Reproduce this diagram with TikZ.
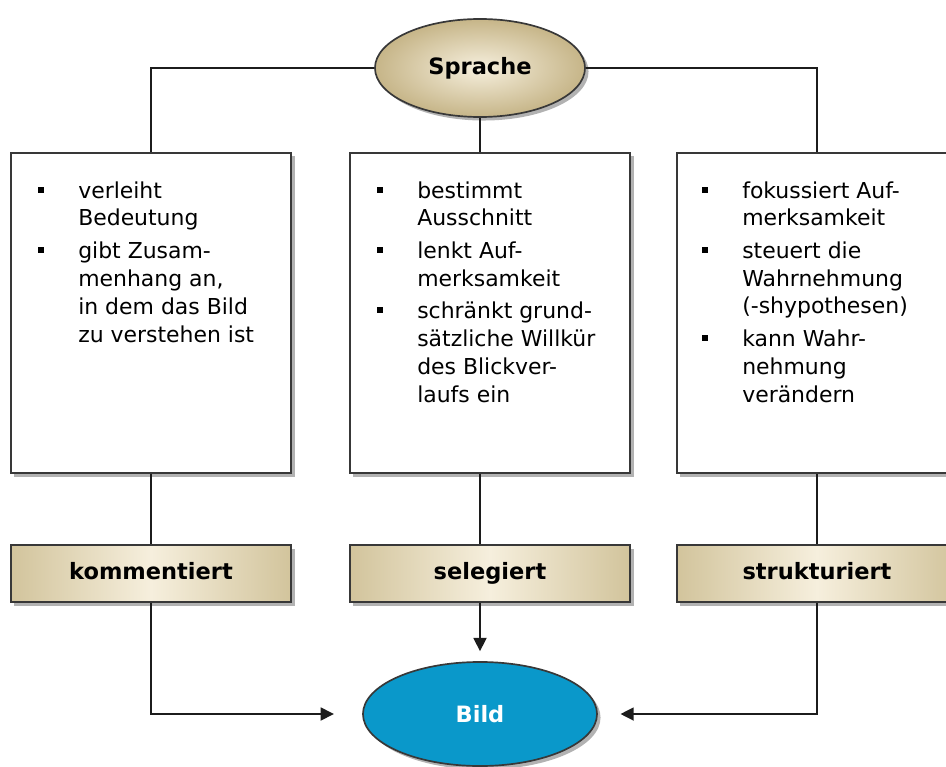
\documentclass[tikz,border=0pt]{standalone}
\usepackage{fontspec}
\setmainfont{DejaVu Sans}
\usetikzlibrary{arrows.meta,positioning,calc,shapes.geometric,shadows}
\definecolor{ink}{HTML}{1C1C1C}
\definecolor{frame}{HTML}{383838}
\definecolor{tan1}{HTML}{D2C49C}
\definecolor{tan2}{HTML}{C6B588}
\definecolor{cream1}{HTML}{F6EFDD}
\definecolor{blue1}{HTML}{0A98CA}
% one bullet point: x, first baseline, further lines, name, lines
\newcommand{\stich}[5]{%
  \node[bullet] (#4b) at ({#1-37},{#2-8}) {};
  \node[item] (#4) at (#1,{#2+28*#3}) {#5};}

\begin{document}
\begin{tikzpicture}[x=0.025cm,y=-0.025cm,
  every node/.style={font=\fontsize{15.6pt}{19.9pt}\selectfont},
  schatten/.style={drop shadow={shadow xshift=2.5pt,shadow yshift=-2.5pt,fill=black!60,opacity=.5}},
  feld/.style={draw=frame,line width=1.2pt,fill=white,minimum width=7cm,minimum height=8cm,schatten},
  etikett/.style={draw=frame,line width=1.2pt,left color=tan1,right color=tan1,middle color=cream1,
    minimum width=7cm,minimum height=1.425cm,text height=12pt,text depth=3pt,
    font=\fontsize{16pt}{19pt}\selectfont\bfseries,schatten},
  oval/.style={ellipse,draw=frame,line width=1.2pt,font=\fontsize{16pt}{19pt}\selectfont\bfseries,schatten},
  bullet/.style={fill=black,inner sep=0pt,minimum size=4.3pt},
  item/.style={anchor=base west,align=left,inner sep=0pt},
  linie/.style={ink,line width=2pt},
  pfeil/.style={linie,-{Triangle[length=9.5pt,width=9pt]}}]
  \path[use as bounding box] (0,0) rectangle (946,767);
  \clip (0,0) rectangle (946,767);

  % top and bottom ovals
  \node[oval,inner color=cream1,outer color=tan2,minimum width=5.25cm,minimum height=2.45cm] (sprache) at (480,68) {Sprache};
  \node[oval,fill=blue1,text=white,minimum width=5.85cm,minimum height=2.6cm] (bild) at (480,714) {Bild};

  % text boxes
  \node[feld] (boxA) at (151,313) {};
  \node[feld] (boxB) at (490,313) {};
  \node[feld] (boxC) at (817,313) {};

  % verb boxes
  \node[etikett] (labA) at (151,573.5) {kommentiert};
  \node[etikett] (labB) at (490,573.5) {selegiert};
  \node[etikett] (labC) at (817,573.5) {strukturiert};

  % connectors
  \draw[linie] (sprache.west) -| (boxA.north);
  \draw[linie] (sprache.east) -| (boxC.north);
  \draw[linie] (sprache.south) -- (sprache.south |- boxB.north);
  \draw[linie] (boxA.south) -- (labA.north);
  \draw[linie] (boxB.south -| sprache) -- (labB.north -| sprache);
  \draw[linie] (boxC.south) -- (labC.north);
  \draw[pfeil,shorten >=20pt] (labA.south) |- (bild.west);
  \draw[pfeil,shorten >=16pt] (labC.south) |- (bild.east);
  \draw[pfeil,shorten >=7pt] (labB.south -| bild) -- (bild.north);

  % bullet points
  \stich{78}{198}{1}{a1}{verleiht\\Bedeutung}
  \stich{78}{258}{3}{a2}{gibt Zusam-\\menhang an,\\in dem das Bild\\zu verstehen ist}
  \stich{417}{198}{1}{b1}{bestimmt\\Ausschnitt}
  \stich{417}{258}{1}{b2}{lenkt Auf-\\merksamkeit}
  \stich{417}{318}{3}{b3}{schränkt grund-\\sätzliche Willkür\\des Blickver-\\laufs ein}
  \stich{742}{198}{1}{c1}{fokussiert Auf-\\merksamkeit}
  \stich{742}{258}{2}{c2}{steuert die\\Wahrnehmung\\(-shypothesen)}
  \stich{742}{346}{2}{c3}{kann Wahr-\\nehmung\\verändern}
\end{tikzpicture}
\end{document}
